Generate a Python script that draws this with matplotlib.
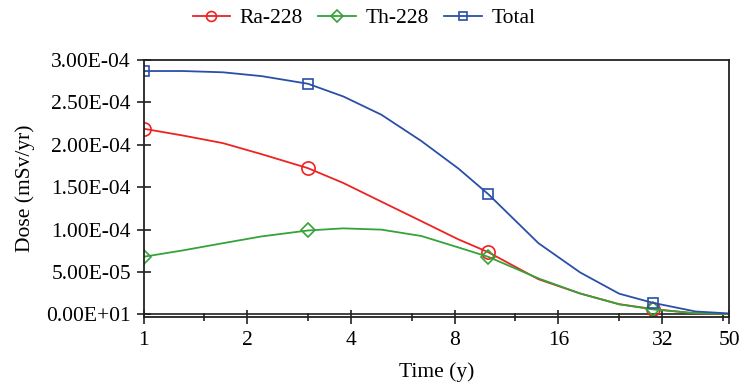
import matplotlib
matplotlib.use("Agg")
import matplotlib.pyplot as plt
from matplotlib.ticker import FixedLocator, NullFormatter

# ---- data ----
time_y = [1, 1.3, 1.7, 2.2, 3, 3.8, 4.9, 6.4, 8.2, 10, 14, 18.5, 24, 30, 40, 50]
ra228 = [2.19e-4, 2.11e-4, 2.02e-4, 1.89e-4, 1.725e-4, 1.55e-4, 1.33e-4, 1.10e-4,
         8.85e-5, 7.35e-5, 4.15e-5, 2.47e-5, 1.21e-5, 6.5e-6, 1.2e-6, 0.4e-6]
th228 = [6.8e-5, 7.55e-5, 8.4e-5, 9.2e-5, 9.9e-5, 1.015e-4, 1.0e-4, 9.25e-5,
         7.9e-5, 6.8e-5, 4.25e-5, 2.47e-5, 1.2e-5, 6.0e-6, 1.5e-6, 0.5e-6]
total = [2.87e-4, 2.87e-4, 2.855e-4, 2.81e-4, 2.72e-4, 2.57e-4, 2.355e-4, 2.045e-4,
         1.72e-4, 1.42e-4, 8.4e-5, 4.95e-5, 2.45e-5, 1.38e-5, 3.5e-6, 1.2e-6]
marker_idx = [0, 4, 9, 13]

series_names = ["Ra-228", "Th-228", "Total"]
x_ticks = [1, 2, 4, 8, 16, 32, 50]
x_minor = [1.5, 3, 6, 12, 24, 48]
y_ticks = [0, 5e-5, 1e-4, 1.5e-4, 2e-4, 2.5e-4, 3e-4]
y_ticklabels = ["0.00E+01", "5.00E-05", "1.00E-04", "1.50E-04",
                "2.00E-04", "2.50E-04", "3.00E-04"]

plt.rcParams['font.family'] = ['Liberation Serif', 'DejaVu Serif']
FS = 15.5
plt.rcParams['font.size'] = FS

fig = plt.figure(figsize=(7.44, 3.83), dpi=100)
ax = fig.add_axes([143.5 / 744, 1 - 317 / 383, (729 - 143.5) / 744, (317 - 60) / 383])

red = '#ee2222'
green = '#33a33a'
blue = '#2a4fa8'

ax.plot(time_y, ra228, color=red, lw=1.3, marker='o', ms=9.5, mfc='none',
        mec=red, mew=1.2, markevery=marker_idx, label=series_names[0])
ax.plot(time_y, th228, color=green, lw=1.3, marker='D', ms=7.5, mfc='none',
        mec=green, mew=1.2, markevery=marker_idx, label=series_names[1])
ax.plot(time_y, total, color=blue, lw=1.3, marker='s', ms=7, mfc='none',
        mec=blue, mew=1.2, markevery=marker_idx, label=series_names[2])

ax.axhline(0, color='#222222', lw=1.2, zorder=1)

ax.set_xscale('log')
ax.set_xlim(1, 50)
ax.set_ylim(-3e-6, 3e-4)

ax.xaxis.set_major_locator(FixedLocator(x_ticks))
ax.set_xticklabels([str(v) for v in x_ticks])
ax.xaxis.set_minor_locator(FixedLocator(x_minor))
ax.xaxis.set_minor_formatter(NullFormatter())

ax.set_yticks(y_ticks)
ax.set_yticklabels(y_ticklabels)

for s in ax.spines.values():
    s.set_linewidth(1.3)
    s.set_color('#222222')

ax.tick_params(axis='both', which='major', direction='inout', length=10, width=1.2,
               color='#222222', labelsize=FS)
ax.tick_params(axis='x', which='major', pad=5)
ax.tick_params(axis='x', which='minor', direction='inout', length=6, width=1.2,
               color='#222222')
ax.tick_params(axis='y', which='major', pad=4)

ax.set_xlabel('Time (y)', fontsize=FS, labelpad=9)
ax.set_ylabel('Dose (mSv/yr)', fontsize=FS, labelpad=8)

leg = fig.legend(loc='center', bbox_to_anchor=(364 / 744, 1 - 18 / 383), ncol=3,
                 frameon=False, fontsize=FS, handlelength=1.75, columnspacing=0.7,
                 handletextpad=0.45, markerscale=0.75)

fig.savefig('out.png', dpi=100)
